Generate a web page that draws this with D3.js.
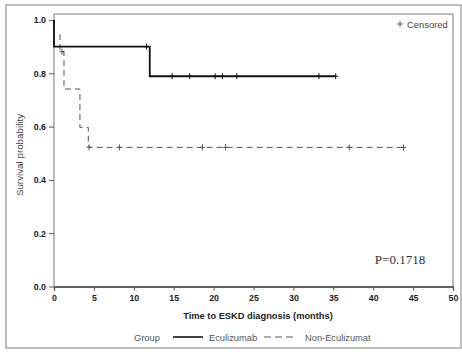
<!DOCTYPE html>
<html>
<head>
<meta charset="utf-8">
<script src="https://cdn.jsdelivr.net/npm/d3@7"></script>
<style>
  body { margin: 0; background: #fff; }
  svg { display: block; }
</style>
</head>
<body>
<div id="chart"></div>
<script>
// Kaplan-Meier steps: [months, survival]
const ecuSteps = [[0, 1.0], [0, 0.9], [12, 0.789]]
const ecuEnd = 35.3
const ecuCensor = [11.6, 14.8, 17, 20.2, 21.1, 22.9, 33.2, 35.3]

const nonSteps = [[0, 1.0], [0, 0.944], [0.75, 0.881], [1.25, 0.741], [3.25, 0.597], [4.3, 0.522]]
const nonEnd = 43.8
const nonCensor = [1.0, 4.4, 8.2, 18.6, 21.5, 37, 43.8]

const xTicks = [0, 5, 10, 15, 20, 25, 30, 35, 40, 45, 50]
const yTicks = [0, 0.2, 0.4, 0.6, 0.8, 1.0]
const groups = ['Eculizumab', 'Non-Eculizumat']
const pText = 'P=0.1718'

const W = 462, H = 352
const plot = { left: 54, right: 453, top: 14, bottom: 286.5 }
const sans = 'Liberation Sans, Arial, sans-serif'

const svg = d3.select('#chart').append('svg').attr('width', W).attr('height', H)

// outer frame
svg.append('rect')
  .attr('x', 6).attr('y', 5).attr('width', 455).attr('height', 343)
  .attr('fill', 'none').attr('stroke', '#a8a8a8').attr('stroke-width', 1.5)

const x = d3.scaleLinear().domain([0, 50]).range([54, 453])
const y = d3.scaleLinear().domain([0, 1]).range([plot.bottom, 20])

// plot box
svg.append('path')
  .attr('d', `M${plot.left},${plot.bottom}V${plot.top}H${plot.right}V${plot.bottom}`)
  .attr('fill', 'none').attr('stroke', '#777').attr('stroke-width', 1)

// axes
const xAxis = svg.append('g')
  .attr('transform', `translate(0,${plot.bottom})`)
  .call(d3.axisBottom(x).tickValues(xTicks).tickSize(4).tickPadding(4))
xAxis.select('.domain').attr('stroke', '#333').attr('stroke-width', 1.3)

const yAxis = svg.append('g')
  .attr('transform', `translate(${plot.left},0)`)
  .call(d3.axisLeft(y).tickValues(yTicks).tickFormat(d3.format('.1f')).tickSize(5).tickPadding(3))
yAxis.select('.domain').remove()

svg.selectAll('.tick line').attr('stroke', '#555')
svg.selectAll('.tick text')
  .attr('font-family', sans)
  .attr('font-size', 8.8).attr('font-weight', 'bold').attr('fill', '#222')

// axis titles
svg.append('text')
  .attr('x', 258).attr('y', 319)
  .attr('text-anchor', 'middle')
  .attr('font-family', sans)
  .attr('font-size', 9.3).attr('font-weight', 'bold').attr('fill', '#222')
  .text('Time to ESKD diagnosis (months)')

svg.append('text')
  .attr('transform', `translate(23,155) rotate(-90)`)
  .attr('text-anchor', 'middle')
  .attr('font-family', sans)
  .attr('font-size', 9.8).attr('fill', '#444')
  .text('Survival probability')

// curves
const line = d3.line().x(d => x(d[0])).y(d => y(d[1])).curve(d3.curveStepAfter)

function drawCurve(steps, end, censor, stroke, width, dash) {
  const pts = steps.concat([[end, steps[steps.length - 1][1]]])
  svg.append('path')
    .attr('d', line(pts))
    .attr('fill', 'none').attr('stroke', stroke).attr('stroke-width', width)
    .attr('stroke-dasharray', dash)

  // survival at a censored time
  const survAt = t => {
    let s = steps[0][1]
    steps.forEach(([ts, v]) => { if (ts <= t) s = v })
    return s
  }
  censor.forEach(t => {
    const cx = x(t), cy = y(survAt(t))
    svg.append('path')
      .attr('d', `M${cx},${cy - 3}V${cy + 3}M${cx - 2.5},${cy}H${cx + 2.5}`)
      .attr('stroke', stroke).attr('stroke-width', 1)
  })
}

drawCurve(nonSteps, nonEnd, nonCensor, '#555', 1, '6,4')
drawCurve(ecuSteps, ecuEnd, ecuCensor, '#111', 1.8, null)

// censored legend
svg.append('path')
  .attr('d', 'M400,21V27M397,24H403')
  .attr('stroke', '#555').attr('stroke-width', 1)
svg.append('text')
  .attr('x', 407).attr('y', 27.5)
  .attr('font-family', sans)
  .attr('font-size', 9.4).attr('fill', '#444')
  .text('Censored')

// p-value
svg.append('text')
  .attr('x', 400).attr('y', 264)
  .attr('text-anchor', 'middle')
  .attr('font-family', 'Liberation Serif, Times New Roman, serif')
  .attr('font-size', 13).attr('fill', '#333')
  .text(pText)

// group legend
const lgY = 337
const lg = svg.append('g').attr('font-family', sans).attr('font-size', 9.3).attr('fill', '#555')
lg.append('text').attr('x', 134).attr('y', lgY + 3.5).text('Group')
lg.append('line').attr('x1', 173).attr('x2', 203).attr('y1', lgY).attr('y2', lgY)
  .attr('stroke', '#111').attr('stroke-width', 1.6)
lg.append('text').attr('x', 209).attr('y', lgY + 3.5).text(groups[0])
lg.append('line').attr('x1', 264).attr('x2', 296).attr('y1', lgY).attr('y2', lgY)
  .attr('stroke', '#555').attr('stroke-width', 1).attr('stroke-dasharray', '7,4')
lg.append('text').attr('x', 305).attr('y', lgY + 3.5).text(groups[1])
</script>
</body>
</html>
